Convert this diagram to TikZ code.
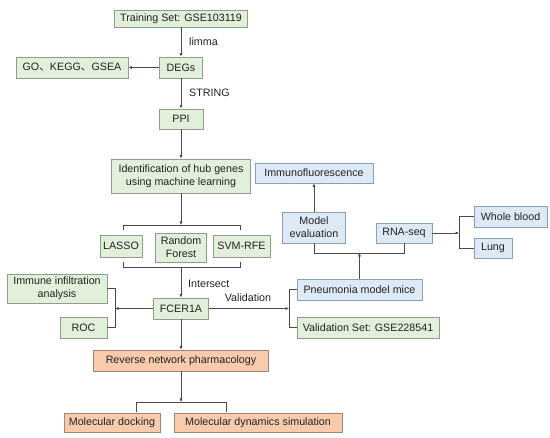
\documentclass[tikz,border=0pt]{standalone}
\usepackage{fontspec}
\setmainfont{Liberation Sans}
\newfontfamily\cjk{Noto Sans CJK SC}
\usetikzlibrary{arrows.meta}
\definecolor{gfill}{HTML}{E2EFDA}
\definecolor{gline}{HTML}{8E9E8A}
\definecolor{bfill}{HTML}{DDEAF6}
\definecolor{bline}{HTML}{8A9FBA}
\definecolor{ofill}{HTML}{F8CBAD}
\definecolor{oline}{HTML}{A38676}
\definecolor{lc}{HTML}{4A4A4A}
\definecolor{tc}{HTML}{222222}
\tikzset{
  box/.style={draw, inner sep=0pt, align=center, line width=0.9pt, text=tc,
    font=\fontsize{10.7}{13}\selectfont},
  gbox/.style={box, fill=gfill, draw=gline},
  bbox/.style={box, fill=bfill, draw=bline},
  obox/.style={box, fill=ofill, draw=oline},
  conn/.style={draw=lc, line width=0.8pt},
  arr/.style={conn, -{Latex[length=3.5pt,width=3.2pt]}},
  lbl/.style={inner sep=0pt, text=tc, font=\fontsize{10.7}{13}\selectfont},
}
\begin{document}
\begin{tikzpicture}[x=1pt,y=-1pt]
\useasboundingbox[fill=white] (0,0) rectangle (550,438);
% main column
\node[gbox, minimum width=133, minimum height=17] (train) at (181,18.5) {Training Set: GSE103119};
\node[gbox, minimum width=43, minimum height=21] (degs) at (181,67.5) {DEGs};
\node[gbox, minimum width=112, minimum height=21] (go) at (72,67.5) {GO{\cjk 、}KEGG{\cjk 、}GSEA};
\node[gbox, minimum width=44, minimum height=20] (ppi) at (181,119) {PPI};
\node[gbox, minimum width=139, minimum height=34] (ident) at (181,176) {Identification of hub genes\\using machine learning};
\node[gbox, minimum width=42, minimum height=22] (lasso) at (121,246) {LASSO};
\node[gbox, minimum width=51, minimum height=29] (rf) at (181,247.5) {Random\\Forest};
\node[gbox, minimum width=57, minimum height=22] (svm) at (241.5,246) {SVM-RFE};
\node[gbox, minimum width=55, minimum height=21] (fcer) at (181,308.5) {FCER1A};
\node[gbox, minimum width=100, minimum height=29] (immune) at (57,288.5) {Immune infiltration\\analysis};
\node[gbox, minimum width=47, minimum height=21] (roc) at (83.5,327.5) {ROC};
\node[bbox, minimum width=125, minimum height=21] (pneu) at (359.5,289.5) {Pneumonia model mice};
\node[gbox, minimum width=142, minimum height=21] (valset) at (368,327.5) {Validation Set: GSE228541};
\node[bbox, minimum width=63, minimum height=31] (model) at (314,227.5) {Model\\evaluation};
\node[bbox, minimum width=56, minimum height=20] (rna) at (404,233) {RNA-seq};
\node[bbox, minimum width=118, minimum height=20] (immuno) at (314,173) {Immunofluorescence};
\node[bbox, minimum width=73, minimum height=21] (whole) at (510.5,216.5) {Whole blood};
\node[bbox, minimum width=38, minimum height=20] (lung) at (493,248) {Lung};
\node[obox, minimum width=175, minimum height=21] (rev) at (181,360.5) {Reverse network pharmacology};
\node[obox, minimum width=96, minimum height=19] (dock) at (112,422.5) {Molecular docking};
\node[obox, minimum width=168, minimum height=19] (dyn) at (258,422.5) {Molecular dynamics simulation};
% labels
\node[lbl, anchor=west] (llimma) at (189,42) {limma};
\node[lbl, anchor=west] (lstring) at (189,93) {STRING};
\node[lbl, anchor=west] (linter) at (188,284) {Intersect};
\node[lbl] (lval) at (248,298) {Validation};
% bracket coordinates
\coordinate (ub) at (181,225);
\coordinate (ubl) at (123,225);
\coordinate (ubr) at (240,225);
\coordinate (ubl2) at (123,230);
\coordinate (ubr2) at (240,230);
\coordinate (lb) at (181,267);
\coordinate (lbl1) at (123,267);
\coordinate (lbr) at (240,267);
\coordinate (lbl2) at (123,262);
\coordinate (lbr2) at (240,262);
\coordinate (leftb) at (115,308.5);
\coordinate (leftbt) at (115,288.5);
\coordinate (leftbb) at (115,327.5);
\coordinate (rightb) at (289,308.5);
\coordinate (rightbt) at (289,289.5);
\coordinate (rightbb) at (289,327.5);
\coordinate (mb) at (359.5,253);
\coordinate (mbl) at (314,253);
\coordinate (mbr) at (404,253);
\coordinate (rb) at (459,233);
\coordinate (rbt) at (459,216.5);
\coordinate (rbb) at (459,248);
\coordinate (bb) at (181,402);
\coordinate (bbl) at (136,402);
\coordinate (bbr) at (226,402);
\coordinate (bbl2) at (136,412);
\coordinate (bbr2) at (226,412);
% connectors
\draw[arr] (train) -- (degs);
\draw[arr] (degs) -- (go);
\draw[arr] (degs) -- (ppi);
\draw[arr] (ppi) -- (ident);
\draw[arr] (ident) -- (ub);
\draw[conn] (ubl2) -- (ubl) -- (ubr) -- (ubr2);
\draw[conn] (lbl2) -- (lbl1) -- (lbr) -- (lbr2);
\draw[arr] (lb) -- (fcer);
\draw[arr] (fcer) -- (leftb);
\draw[conn] (immune.east) -- (leftbt) -- (leftbb) -- (roc.east);
\draw[arr] (fcer) -- (rightb);
\draw[conn] (pneu.west) -- (rightbt) -- (rightbb) -- (valset.west);
\draw[arr] (pneu.north -| mb) -- (mb);
\draw[conn] (model.south) -- (mbl) -- (mbr) -- (rna.south);
\draw[arr] (model) -- (immuno);
\draw[arr] (rna) -- (rb);
\draw[conn] (whole.west) -- (rbt) -- (rbb) -- (lung.west);
\draw[arr] (fcer) -- (rev);
\draw[arr] (rev) -- (bb);
\draw[conn] (bbl2) -- (bbl) -- (bbr) -- (bbr2);
\end{tikzpicture}
\end{document}
